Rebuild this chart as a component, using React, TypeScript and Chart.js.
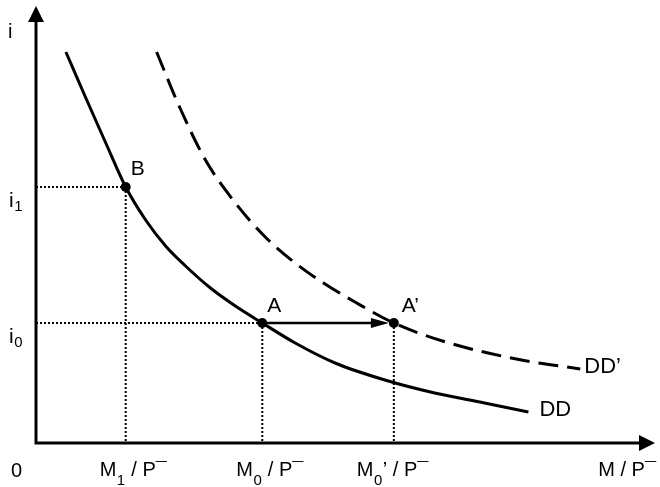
import React, { useEffect, useRef } from "react";
import { Chart, registerables } from "chart.js";

Chart.register(...registerables);

// Curve DD (solid): money demand before the shift
const ddX = [30, 50, 70, 90, 110, 130, 150, 175, 200, 227, 260, 300, 350, 400, 450, 494];
const ddY = [391, 345, 300, 256, 223, 197, 177, 155, 137, 120, 100, 80, 63, 50, 40, 31];
// Curve DD' (dashed): money demand after the shift
const ddpX = [121, 144, 170, 200, 230, 260, 290, 320, 359, 411, 487, 546];
const ddpY = [391, 336, 283, 240, 206, 180, 159, 141, 120, 101, 83, 74];
// Equilibrium points
const pointNames = ["B", "A", "A’"];
const pointX = [90, 227, 359];
const pointY = [256, 120, 120];
// Axis tick labels
const xTickValues = [90, 227, 359];
const xTickMain = ["M", "M", "M"];
const xTickSub = ["1", "0", "0"];
const xTickRest = [" / P¯", " / P¯", "’ / P¯"];
const yTickValues = [256, 120];
const yTickSub = ["1", "0"];
const curveNames = ["DD", "DD’"];
const axisXLabel = "M / P¯";
const axisYLabel = "i";
const originLabel = "0";

const FONT = "'Liberation Sans', Arial, Helvetica, sans-serif";

function drawRich(
  ctx: CanvasRenderingContext2D,
  main: string,
  sub: string,
  rest: string,
  x: number,
  y: number,
  size: number,
  subSize: number,
  subDrop: number
) {
  ctx.textAlign = "left";
  ctx.textBaseline = "alphabetic";
  ctx.font = `${size}px ${FONT}`;
  const w1 = ctx.measureText(main).width;
  ctx.fillText(main, x, y);
  ctx.font = `${subSize}px ${FONT}`;
  const w2 = ctx.measureText(sub).width;
  ctx.fillText(sub, x + w1 + 0.5, y + subDrop);
  ctx.font = `${size}px ${FONT}`;
  ctx.fillText(rest, x + w1 + w2 + 1, y);
}

const overlay = {
  id: "overlay",
  afterDatasetsDraw(chart: any) {
    const ctx: CanvasRenderingContext2D = chart.ctx;
    const { left, right, top, bottom } = chart.chartArea;
    const xs = chart.scales.x;
    const ys = chart.scales.y;
    ctx.save();
    ctx.fillStyle = "#000";
    ctx.strokeStyle = "#000";

    // Arrow from A to A'
    const ax = xs.getPixelForValue(pointX[1]);
    const ay = ys.getPixelForValue(pointY[1]);
    const bx = xs.getPixelForValue(pointX[2]) - 5;
    ctx.lineWidth = 2.5;
    ctx.beginPath();
    ctx.moveTo(ax, ay);
    ctx.lineTo(bx - 14, ay);
    ctx.stroke();
    ctx.beginPath();
    ctx.moveTo(bx, ay);
    ctx.lineTo(bx - 18, ay - 5);
    ctx.lineTo(bx - 18, ay + 5);
    ctx.closePath();
    ctx.fill();

    // Axes
    ctx.lineWidth = 3;
    ctx.lineCap = "butt";
    ctx.beginPath();
    ctx.moveTo(left, bottom + 1.5);
    ctx.lineTo(left, top + 14);
    ctx.moveTo(left - 1.5, bottom);
    ctx.lineTo(right - 14, bottom);
    ctx.stroke();
    ctx.beginPath();
    ctx.moveTo(left, top);
    ctx.lineTo(left - 8, top + 16);
    ctx.lineTo(left + 8, top + 16);
    ctx.closePath();
    ctx.fill();
    ctx.beginPath();
    ctx.moveTo(right, bottom);
    ctx.lineTo(right - 16, bottom - 8);
    ctx.lineTo(right - 16, bottom + 8);
    ctx.closePath();
    ctx.fill();

    // Axis labels
    ctx.textBaseline = "alphabetic";
    ctx.textAlign = "left";
    ctx.font = `20px ${FONT}`;
    ctx.fillText(axisYLabel, 8, 38);
    ctx.fillText(originLabel, 11, 477);
    ctx.textAlign = "right";
    ctx.fillText(axisXLabel, 656, 476);

    const xOff = [-26, -26, -37];
    xTickValues.forEach((v, i) => {
      const px = xs.getPixelForValue(v);
      drawRich(ctx, xTickMain[i], xTickSub[i], xTickRest[i], px + xOff[i], 476, 20, 15, 9);
    });
    yTickValues.forEach((v, i) => {
      const py = ys.getPixelForValue(v);
      drawRich(ctx, "i", yTickSub[i], "", 9, py + 20, 21, 15, 4);
    });

    // Point labels
    ctx.textAlign = "left";
    ctx.font = `21px ${FONT}`;
    const offs = [
      [5, -12],
      [5, -11],
      [8, -11],
    ];
    pointNames.forEach((n, i) => {
      const px = xs.getPixelForValue(pointX[i]);
      const py = ys.getPixelForValue(pointY[i]);
      ctx.fillText(n, px + offs[i][0], py + offs[i][1]);
    });

    // Curve labels
    ctx.font = `22px ${FONT}`;
    const ex = xs.getPixelForValue(ddX[ddX.length - 1]);
    const ey = ys.getPixelForValue(ddY[ddY.length - 1]);
    ctx.fillText(curveNames[0], ex + 11, ey + 4);
    const fx = xs.getPixelForValue(ddpX[ddpX.length - 1]);
    const fy = ys.getPixelForValue(ddpY[ddpY.length - 1]);
    ctx.fillText(curveNames[1], fx + 4, fy + 4);

    ctx.restore();
  },
};

export default function App() {
  const ref = useRef<HTMLCanvasElement | null>(null);
  useEffect(() => {
    if (!ref.current) return;
    const dotted = {
      borderColor: "#000",
      borderWidth: 2,
      borderDash: [2, 2],
      pointRadius: 0,
      fill: false,
      tension: 0,
    };
    const chart = new Chart(ref.current, {
      type: "line",
      data: {
        datasets: [
          { ...dotted, data: [{ x: 0, y: pointY[0] }, { x: pointX[0], y: pointY[0] }] },
          { ...dotted, data: [{ x: pointX[0], y: pointY[0] }, { x: pointX[0], y: 0 }] },
          { ...dotted, data: [{ x: 0, y: pointY[1] }, { x: pointX[1], y: pointY[1] }] },
          { ...dotted, data: [{ x: pointX[1], y: pointY[1] }, { x: pointX[1], y: 0 }] },
          { ...dotted, data: [{ x: pointX[2], y: pointY[2] }, { x: pointX[2], y: 0 }] },
          {
            data: ddX.map((x, i) => ({ x, y: ddY[i] })),
            borderColor: "#000",
            borderWidth: 3,
            pointRadius: 0,
            cubicInterpolationMode: "monotone",
            fill: false,
          },
          {
            data: ddpX.map((x, i) => ({ x, y: ddpY[i] })),
            borderColor: "#000",
            borderWidth: 3,
            borderDash: [20, 9],
            pointRadius: 0,
            cubicInterpolationMode: "monotone",
            fill: false,
          },
          {
            data: pointX.map((x, i) => ({ x, y: pointY[i] })),
            showLine: false,
            pointRadius: 5,
            pointBackgroundColor: "#000",
            pointBorderColor: "#000",
            pointBorderWidth: 0,
          },
        ] as any,
      },
      options: {
        animation: false,
        responsive: false,
        events: [],
        layout: { padding: { left: 36, top: 6, right: 3, bottom: 44 } },
        plugins: { legend: { display: false }, tooltip: { enabled: false } },
        scales: {
          x: { type: "linear", min: 0, max: 621, display: false },
          y: { type: "linear", min: 0, max: 437, display: false },
        },
      },
      plugins: [overlay],
    });
    return () => chart.destroy();
  }, []);
  return (
    <div style={{ position: "absolute", left: 0, top: 0, width: 660, height: 487, background: "#fff" }}>
      <canvas ref={ref} width={660} height={487} style={{ width: 660, height: 487 }} />
    </div>
  );
}
